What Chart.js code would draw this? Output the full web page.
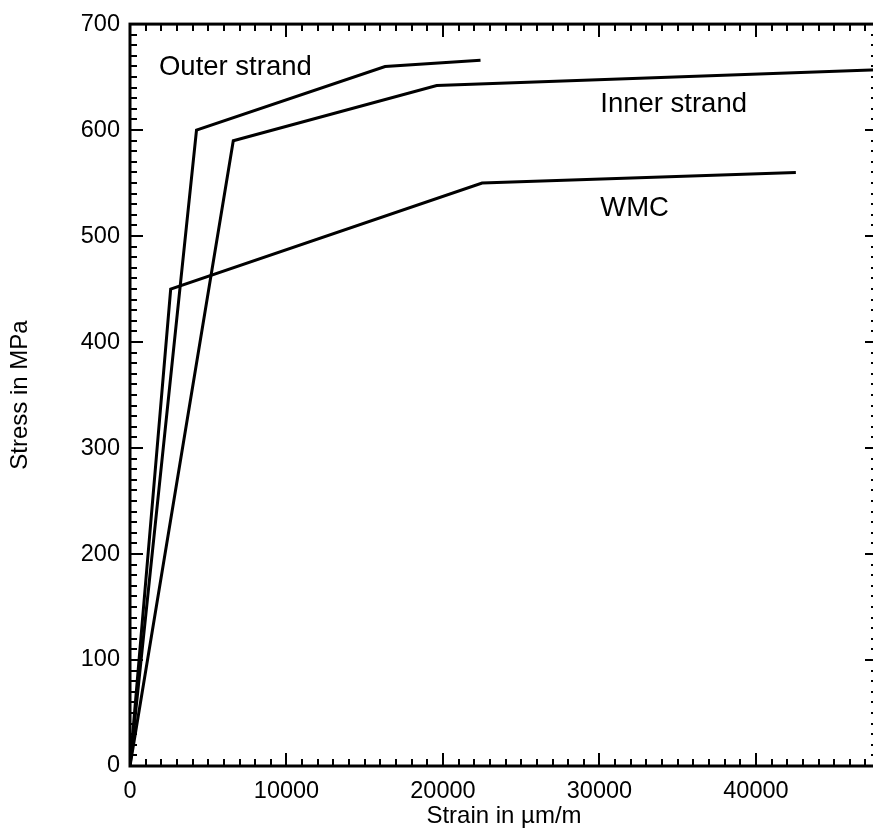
<!DOCTYPE html>
<html>
<head>
<meta charset="utf-8">
<script src="https://cdn.jsdelivr.net/npm/chart.js@4.4.0/dist/chart.umd.min.js"></script>
<style>
  html, body { margin: 0; padding: 0; background: #fff; overflow: hidden; }
  canvas { display: block; }
</style>
</head>
<body>
<canvas id="stressChart" width="882" height="837"></canvas>
<script>
  // Curves (strain in um/m, stress in MPa)
  const outerStrain = [0, 4250, 16300, 22400];
  const outerStress = [0, 600, 660, 666];
  const innerStrain = [0, 6600, 19600, 47800];
  const innerStress = [0, 590, 642, 657];
  const wmcStrain = [0, 2600, 22500, 42550];
  const wmcStress = [0, 450, 550, 560];

  // Tick labels
  const xTickValues = [0, 10000, 20000, 30000, 40000];
  const yTickValues = [0, 100, 200, 300, 400, 500, 600, 700];

  // Text labels placed in data coordinates
  const labelText = ['Outer strand', 'Inner strand', 'WMC'];
  const labelStrain = [1850, 30050, 30050];
  const labelStress = [652, 617, 519];

  const X_MAX = 47800;
  const Y_MAX = 700;
  const FONT = "'Liberation Sans', Arial, sans-serif";

  function toPoints(xs, ys) {
    return xs.map((v, i) => ({ x: v, y: ys[i] }));
  }

  function lineSet(label, xs, ys) {
    return {
      label: label,
      data: toPoints(xs, ys),
      showLine: true,
      borderColor: '#000',
      borderWidth: 3,
      pointRadius: 0,
      tension: 0,
      fill: false
    };
  }

  // inward ticks, frame and curve labels
  const axisFrame = {
    id: 'axisFrame',
    afterDatasetsDraw(chart) {
      const { ctx, chartArea: a, scales: { x, y } } = chart;
      ctx.save();
      ctx.strokeStyle = '#000';
      ctx.lineWidth = 2;
      ctx.beginPath();
      for (let v = 0; v <= X_MAX; v += 1000) {
        const px = Math.round(x.getPixelForValue(v));
        const len = v % 10000 === 0 ? 13 : 7;
        ctx.moveTo(px, a.bottom); ctx.lineTo(px, a.bottom - len);
        ctx.moveTo(px, a.top); ctx.lineTo(px, a.top + len);
      }
      for (let v = 0; v <= Y_MAX; v += 10) {
        const py = Math.round(y.getPixelForValue(v));
        const len = v % 100 === 0 ? 13 : 7;
        ctx.moveTo(a.left, py); ctx.lineTo(a.left + len, py);
        ctx.moveTo(a.right, py); ctx.lineTo(a.right - len, py);
      }
      ctx.stroke();

      ctx.lineWidth = 3;
      ctx.strokeRect(a.left, a.top, a.right - a.left, a.bottom - a.top);

      ctx.fillStyle = '#000';
      ctx.font = '27.5px ' + FONT;
      ctx.textAlign = 'left';
      ctx.textBaseline = 'alphabetic';
      labelText.forEach((t, i) => {
        ctx.fillText(t, x.getPixelForValue(labelStrain[i]), y.getPixelForValue(labelStress[i]));
      });
      ctx.restore();
    }
  };

  window.addEventListener('DOMContentLoaded', () => {
    Chart.defaults.color = '#000';
    Chart.defaults.font.family = FONT;

    const ctx = document.getElementById('stressChart').getContext('2d');
    new Chart(ctx, {
      type: 'scatter',
      data: {
        datasets: [
          lineSet('Outer strand', outerStrain, outerStress),
          lineSet('Inner strand', innerStrain, innerStress),
          lineSet('WMC', wmcStrain, wmcStress)
        ]
      },
      options: {
        responsive: false,
        animation: false,
        devicePixelRatio: 1,
        layout: { padding: { top: 17, right: 4, left: 0, bottom: 0 } },
        plugins: {
          legend: { display: false },
          tooltip: { enabled: false }
        },
        scales: {
          x: {
            type: 'linear',
            min: 0,
            max: X_MAX,
            grid: { display: false, drawTicks: false },
            border: { display: false },
            afterBuildTicks: s => { s.ticks = xTickValues.map(v => ({ value: v })); },
            ticks: {
              maxRotation: 0,
              autoSkip: false,
              padding: 11,
              font: { size: 23.5 },
              callback: v => String(v)
            },
            title: {
              display: true,
              text: 'Strain in \u00b5m/m',
              font: { size: 24 },
              padding: 6
            },
            afterFit: s => { s.height = 71; }
          },
          y: {
            min: 0,
            max: Y_MAX,
            grid: { display: false, drawTicks: false },
            border: { display: false },
            afterBuildTicks: s => { s.ticks = yTickValues.map(v => ({ value: v })); },
            ticks: {
              autoSkip: false,
              padding: 10,
              font: { size: 23.5 },
              callback: v => String(v)
            },
            title: {
              display: true,
              text: 'Stress in MPa',
              font: { size: 24 },
              padding: 6
            },
            afterFit: s => { s.width = 130; }
          }
        }
      },
      plugins: [axisFrame]
    });
  });
</script>
</body>
</html>
